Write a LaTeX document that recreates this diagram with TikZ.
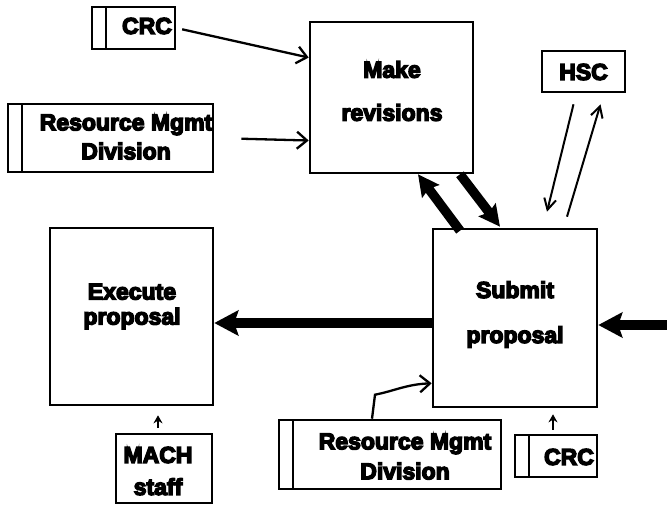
\documentclass[tikz,border=0pt]{standalone}
\usepackage{fontspec}
\newfontface\heavy{Liberation Sans Bold}[FakeBold=6]
\usetikzlibrary{arrows.meta,calc}

\tikzset{
  box/.style={draw, line width=2.6pt, inner sep=0pt},
  stripbox/.style={box,
    path picture={\draw[line width=2.4pt]
      ([xshift=14pt]path picture bounding box.north west) --
      ([xshift=14pt]path picture bounding box.south west);}},
  lbl/.style={inner sep=0pt, align=center,
    font=\heavy\fontsize{23pt}{#1}\selectfont},
  lbl/.default=28pt,
  thinarr/.style={line width=2.3pt, -{Straight Barb[length=10pt,width=17pt]}},
  hscarr/.style={line width=2pt, -{Straight Barb[length=11pt,width=12pt]}},
  smallarr/.style={line width=2.5pt, -{Stealth[length=8pt,width=9pt]}},
  bigarr/.style={line width=9.5pt, -{Stealth[length=24pt,width=25pt,inset=4pt]}},
  diagarr/.style={line width=9.5pt, -{Stealth[length=21pt,width=21pt,inset=3pt]}},
}

\begin{document}
\begin{tikzpicture}[x=1pt,y=-1pt]
\useasboundingbox (0,0) rectangle (667,504);

% activity boxes
\node[box, minimum width=163pt, minimum height=151pt] (mr) at (391.5,97.5) {};
\node[box, minimum width=164pt, minimum height=178pt] (sp) at (515,318) {};
\node[box, minimum width=163pt, minimum height=177pt] (ep) at (131.5,316.5) {};

% agents
\node[stripbox, minimum width=83pt,  minimum height=42pt] (crc1) at (133.5,28) {};
\node[stripbox, minimum width=205pt, minimum height=68pt] (rmd1) at (110.5,138) {};
\node[box,      minimum width=83pt,  minimum height=41pt] (hsc)  at (583.5,71.5) {};
\node[box,      minimum width=96pt,  minimum height=69pt] (mach) at (164,468.5) {};
\node[stripbox, minimum width=222pt, minimum height=69pt] (rmd2) at (390,454.5) {};
\node[stripbox, minimum width=82pt,  minimum height=42pt] (crc2) at (556,456) {};

% labels
\node[lbl=43pt] (mrt) at (392,91) {Make\\revisions};
\node[lbl=45pt] (spt) at (515,314.5) {Submit\\proposal};
\node[lbl=25pt] (ept) at (132,306.5) {Execute\\proposal};
\node[lbl] (crc1t) at (147,26) {CRC};
\node[lbl=29pt] (rmd1t) at (126,137) {Resource Mgmt\\Division};
\node[lbl] (hsct) at (583.5,72) {HSC};
\node[lbl=32pt] (macht) at (158,471) {MACH\\staff};
\node[lbl=30pt] (rmd2t) at (405,456.5) {Resource Mgmt\\Division};
\node[lbl] (crc2t) at (569,457) {CRC};

% incoming flow from the right
\coordinate (inflow) at (667,325);

% thin arrows
\draw[thinarr, shorten <=6pt] (crc1.east) -- ($(mr.north west)!0.24!(mr.south west)$);
\draw[thinarr, shorten <=27pt] (rmd1.east) -- ($(mr.north west)!0.78!(mr.south west)$);
\draw[hscarr] ($(hsc.south)+(-10,11)$) -- ($(sp.north)+(32,-16)$);
\draw[hscarr] ($(sp.north)+(52,-11)$) -- ($(hsc.south)+(17,11)$);
\draw[thinarr] ($(rmd2.north)+(-18,0)$) -- ++(3,-24)
  .. controls ++(20,-4) and ($(sp.south west)+(-25,-24)$) .. ($(sp.south west)+(0,-25)$);
\draw[smallarr] ($(mach.north)+(-6,-5)$) -- ($(ep.south)+(26.5,9)$);
\draw[smallarr] ($(crc2.north)+(-3,-4)$) -- ($(sp.south)+(38,6)$);

% thick flows
\draw[bigarr] ($(sp.west)+(0,5)$) -- ($(ep.east)+(0,6.5)$);
\draw[bigarr] (inflow) -- ($(sp.east)+(0,7)$);
\draw[diagarr] ($(sp.north)+(-55,3)$) -- ($(mr.south)+(26.5,0)$);
\draw[diagarr] ($(mr.south)+(68.5,0)$) -- ($(sp.north)+(-15,-1)$);
\end{tikzpicture}
\end{document}
